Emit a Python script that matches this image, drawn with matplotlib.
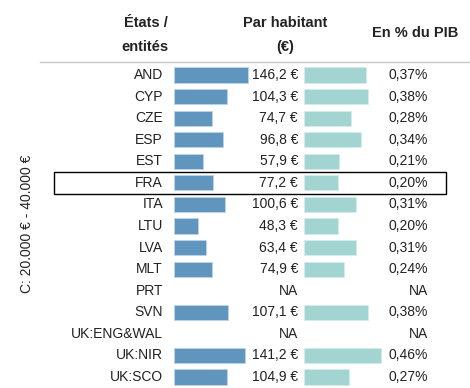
import matplotlib.pyplot as plt
from matplotlib.patches import Rectangle

# data
states = ['AND', 'CYP', 'CZE', 'ESP', 'EST', 'FRA', 'ITA', 'LTU', 'LVA', 'MLT',
          'PRT', 'SVN', 'UK:ENG&WAL', 'UK:NIR', 'UK:SCO']
per_capita = [146.2, 104.3, 74.7, 96.8, 57.9, 77.2, 100.6, 48.3, 63.4, 74.9,
              None, 107.1, None, 141.2, 104.9]
pct_gdp = [0.37, 0.38, 0.28, 0.34, 0.21, 0.20, 0.31, 0.20, 0.31, 0.24,
           None, 0.38, None, 0.46, 0.27]
group_label = 'C: 20.000 € - 40.000 €'
highlight = 'FRA'

plt.rcParams['font.family'] = ['Liberation Sans', 'DejaVu Sans']
W, H = 470, 388
fig = plt.figure(figsize=(W / 100, H / 100), dpi=100)

n = len(states)
row_top, row_h = 75, 21.57          # pixel centre of first row, pitch
ax_top = row_top - row_h / 2
ax_bot = row_top + row_h * (n - 0.5)

def axes_px(x0, x1):
    return fig.add_axes([x0 / W, (H - ax_bot) / H, (x1 - x0) / W, (ax_bot - ax_top) / H])

# main text axes: pixel units horizontally, rows vertically
ax = axes_px(0, W)
ax.set_xlim(0, W)
ax.set_ylim(n - 0.5, -0.5)
ax.axis('off')

blue, teal = '#6095bd', '#a2d5d2'
ax_b = axes_px(174, 174 + 150 * 0.506)
ax_b.set_xlim(0, 150)
ax_t = axes_px(304, 304 + 0.5 * 167.6)
ax_t.set_xlim(0, 0.5)
for a in (ax_b, ax_t):
    a.set_ylim(n - 0.5, -0.5)
    a.axis('off')
    a.patch.set_alpha(0)

for i, s in enumerate(states):
    ax.text(163, i, s, ha='right', va='center', fontsize=10, color='#222')
    v, p = per_capita[i], pct_gdp[i]
    if v is None:
        ax.text(298, i, 'NA', ha='right', va='center', fontsize=10, color='#222')
    else:
        ax_b.barh(i, v, height=0.7, color=blue, edgecolor='#bcd4e8', lw=0.6)
        ax.text(298, i, f'{v:.1f} €'.replace('.', ','), ha='right', va='center',
                fontsize=10, color='#222')
    if p is None:
        ax.text(428, i, 'NA', ha='right', va='center', fontsize=10, color='#222')
    else:
        ax_t.barh(i, p, height=0.7, color=teal, edgecolor='#d4ecea', lw=0.6)
        ax.text(428, i, f'{p:.2f}%'.replace('.', ','), ha='right', va='center',
                fontsize=10, color='#222')

# highlight box
k = states.index(highlight)
ax.add_patch(Rectangle((54, k - 0.5), 392, 1, fill=False, ec='black', lw=1,
                       clip_on=False, zorder=5))

# headers and separator
def fy(y):
    return 1 - y / H

hdr = dict(fontsize=10.5, fontweight='bold', color='#222', va='center')
fig.text(168 / W, fy(23), 'États /', ha='right', **hdr)
fig.text(168 / W, fy(47), 'entités', ha='right', **hdr)
fig.text(285 / W, fy(23), 'Par habitant', ha='center', **hdr)
fig.text(285 / W, fy(47), '(€)', ha='center', **hdr)
fig.text(415 / W, fy(33), 'En % du PIB', ha='center', **hdr)
fig.add_artist(plt.Line2D([40 / W, 1], [fy(62), fy(62)], color='#c8c8c8', lw=1))

fig.text(27 / W, fy(224), group_label, rotation=90, ha='center', va='center',
         fontsize=10, color='#222')

fig.savefig('out.png', dpi=100)
